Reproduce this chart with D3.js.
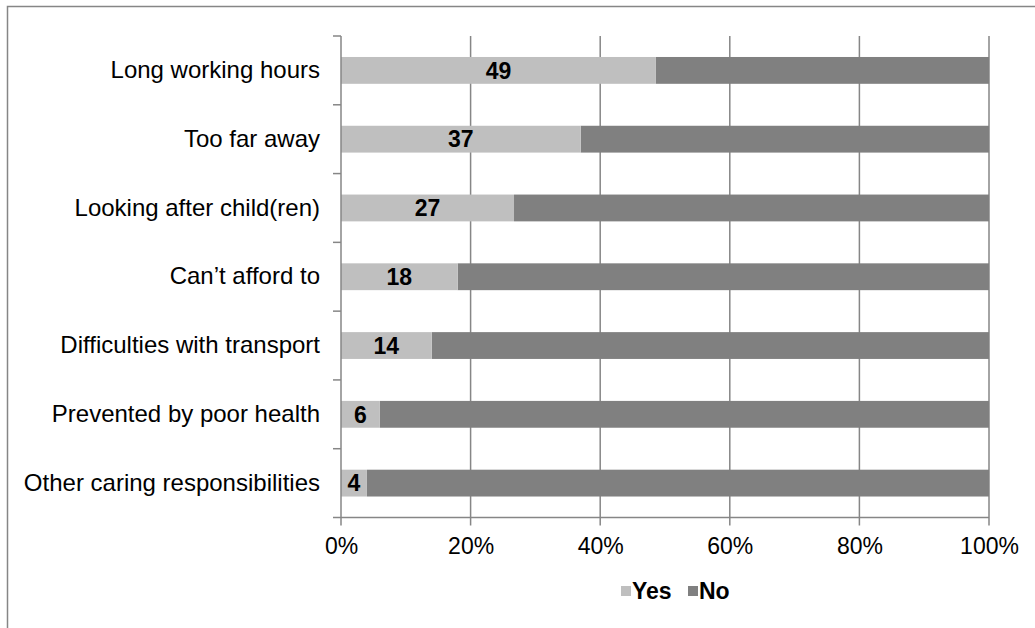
<!DOCTYPE html>
<html lang="en">
<head>
<meta charset="UTF-8">
<title>Reasons</title>
<style>
    body { margin: 0; background: #fff; font-family: "Liberation Sans", Arial, sans-serif; }
</style>
<script src="https://d3js.org/d3.v7.min.js"></script>
</head>
<body>
<svg id="chart" width="1035" height="628"></svg>
<script>
    // data
    const categories = [
        "Long working hours",
        "Too far away",
        "Looking after child(ren)",
        "Can\u2019t afford to",
        "Difficulties with transport",
        "Prevented by poor health",
        "Other caring responsibilities"
    ];
    const yesValues = [48.6, 37, 26.7, 18, 14, 6, 4];
    const yesLabels = ["49", "37", "27", "18", "14", "6", "4"];
    const xTicks = [0, 20, 40, 60, 80, 100];
    const seriesNames = ["Yes", "No"];
    const seriesColors = ["#bfbfbf", "#808080"];

    const fontSize = 23;
    const svg = d3.select("#chart");
    const margin = { left: 341, right: 1035 - 989, top: 36, bottom: 628 - 517.5 };
    const width = 1035 - margin.left - margin.right;
    const height = 628 - margin.top - margin.bottom;

    // outer frame
    svg.append("path")
        .attr("d", "M7.5,628 V6.5 H1035")
        .attr("fill", "none")
        .attr("stroke", "#868686")
        .attr("stroke-width", 1.5);

    const g = svg.append("g").attr("transform", `translate(${margin.left},${margin.top})`);

    const x = d3.scaleLinear().domain([0, 100]).range([0, width]);
    const y = d3.scaleBand().domain(categories).range([0, height]).paddingInner(0.61).paddingOuter(0.305);

    // gridlines
    g.append("g").selectAll("line")
        .data(xTicks.slice(1))
        .join("line")
        .attr("x1", d => x(d)).attr("x2", d => x(d))
        .attr("y1", 0).attr("y2", height + 8)
        .attr("stroke", "#868686")
        .attr("stroke-width", 1.5);

    const rows = categories.map((c, i) => ({ cat: c, yes: yesValues[i], no: 100 - yesValues[i], label: yesLabels[i] }));

    // no segment
    g.append("g").selectAll("rect")
        .data(rows)
        .join("rect")
        .attr("x", d => x(d.yes))
        .attr("width", d => x(100) - x(d.yes))
        .attr("y", d => y(d.cat))
        .attr("height", y.bandwidth())
        .attr("fill", seriesColors[1]);

    // yes segment
    g.append("g").selectAll("rect")
        .data(rows)
        .join("rect")
        .attr("x", x(0))
        .attr("width", d => x(d.yes) - x(0))
        .attr("y", d => y(d.cat))
        .attr("height", y.bandwidth())
        .attr("fill", seriesColors[0]);

    // value labels
    g.append("g").selectAll("text")
        .data(rows)
        .join("text")
        .attr("x", d => x(d.yes / 2))
        .attr("y", d => y(d.cat) + y.bandwidth() / 2)
        .attr("dy", "0.36em")
        .attr("text-anchor", "middle")
        .attr("font-size", fontSize)
        .attr("font-weight", "bold")
        .attr("fill", "#000")
        .text(d => d.label);

    // x axis
    const xAxis = g.append("g")
        .attr("transform", `translate(0,${height})`)
        .call(d3.axisBottom(x).tickValues(xTicks).tickFormat(d => d + "%").tickSize(0).tickPadding(20));
    xAxis.select(".domain").attr("stroke", "#868686").attr("stroke-width", 1.5)
        .attr("d", `M-8,0H${width}`);
    xAxis.selectAll(".tick line").remove();
    xAxis.selectAll("text").attr("font-size", fontSize).attr("font-family", "Liberation Sans, Arial, sans-serif").attr("fill", "#000");

    // y axis
    const yAxis = g.append("g")
        .call(d3.axisLeft(y).tickSize(0).tickPadding(21));
    yAxis.select(".domain").attr("stroke", "#868686").attr("stroke-width", 1.5)
        .attr("d", `M0,0V${height + 8}`);
    yAxis.selectAll("text").attr("font-size", 24).attr("font-family", "Liberation Sans, Arial, sans-serif").attr("fill", "#000");
    const step = y.step();
    g.append("g").selectAll("line")
        .data(d3.range(categories.length))
        .join("line")
        .attr("x1", -8).attr("x2", 0)
        .attr("y1", i => i * step).attr("y2", i => i * step)
        .attr("stroke", "#868686").attr("stroke-width", 1.5);

    // legend
    const legend = svg.append("g").attr("transform", "translate(621,586)");
    const legendX = [0, 67];
    seriesNames.forEach((name, i) => {
        const item = legend.append("g").attr("transform", `translate(${legendX[i]},0)`);
        item.append("rect").attr("width", 10).attr("height", 10).attr("fill", seriesColors[i]);
        item.append("text")
            .attr("x", 11).attr("y", 5).attr("dy", "0.36em")
            .attr("font-size", fontSize).attr("font-weight", "bold")
            .text(name);
    });
</script>
</body>
</html>
